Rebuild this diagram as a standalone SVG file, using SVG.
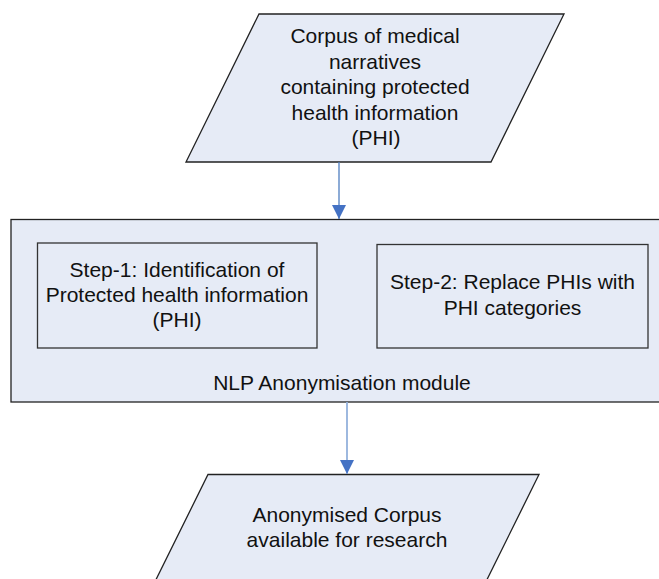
<svg xmlns="http://www.w3.org/2000/svg" width="659" height="579" viewBox="0 0 659 579">
<defs>
<style>
.shape{fill:#e6ebf6;stroke:#222;stroke-width:1.3}
.box{fill:#e6ebf6;stroke:#333;stroke-width:1.3}
text{font-family:"Liberation Sans",Arial,sans-serif;font-size:21px;fill:#111;text-anchor:middle}
</style>
<marker id="arr" markerWidth="14" markerHeight="14" refX="14" refY="7" orient="auto" markerUnits="userSpaceOnUse">
<path d="M0,0 L14,7 L0,14 Z" fill="#4472c4"/>
</marker>
</defs>
<rect width="659" height="579" fill="#fff"/>
<g id="corpus">
<polygon class="shape" points="259,14 564,14 491,162 186,162"/>
<text x="375" y="43">Corpus of medical</text>
<text x="375" y="68.5">narratives</text>
<text x="375" y="94">containing protected</text>
<text x="375" y="119.5">health information</text>
<text x="376" y="145">(PHI)</text>
</g>
<g id="module">
<rect class="shape" x="11" y="219.5" width="651" height="182.5"/>
<text x="342" y="390">NLP Anonymisation module</text>
</g>
<g id="step1">
<rect class="box" x="37.5" y="243" width="279.5" height="105"/>
<text x="177" y="277">Step-1: Identification of</text>
<text x="177" y="302">Protected health information</text>
<text x="177" y="327">(PHI)</text>
</g>
<g id="step2">
<rect class="box" x="377" y="244.5" width="271" height="103.5"/>
<text x="512.5" y="289">Step-2: Replace PHIs with</text>
<text x="512.5" y="315">PHI categories</text>
</g>
<g id="output">
<polygon class="shape" points="208,474.5 539,474.5 466,622 135,622"/>
<text x="347" y="522">Anonymised Corpus</text>
<text x="347" y="547">available for research</text>
</g>
<g id="connectors">
<line x1="339" y1="162" x2="339" y2="219" stroke="#4f7ec0" stroke-width="1.3" marker-end="url(#arr)"/>
<line x1="347" y1="402" x2="347" y2="474" stroke="#93b1dc" stroke-width="1.8" marker-end="url(#arr)"/>
</g>
</svg>
